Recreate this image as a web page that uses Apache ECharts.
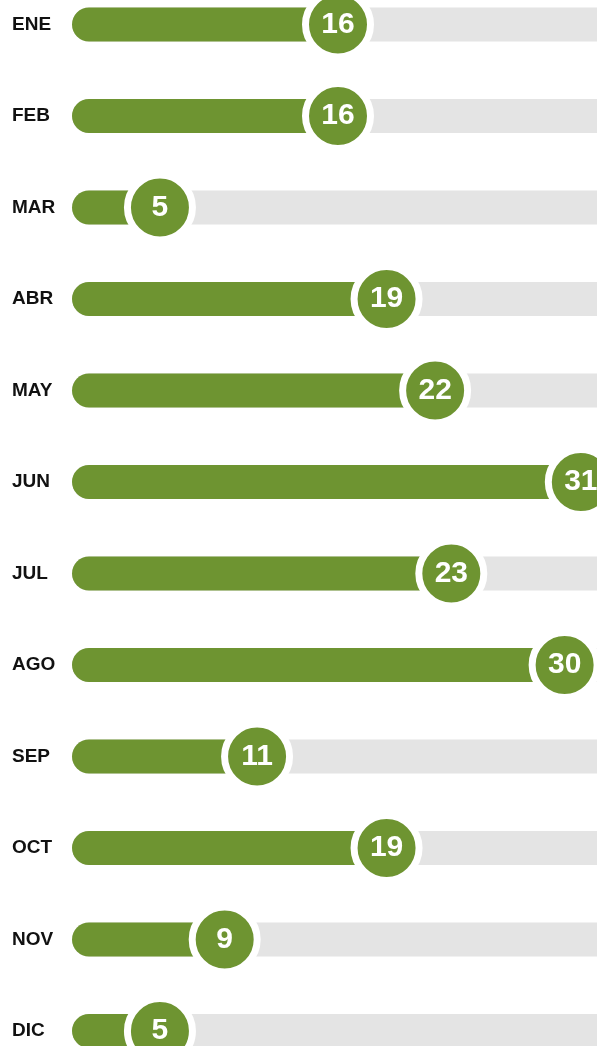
<!DOCTYPE html>
<html>
<head>
<meta charset="utf-8">
<script src="https://cdn.jsdelivr.net/npm/echarts@6/dist/echarts.min.js"></script>
<style>
  html, body { margin: 0; padding: 0; background: #ffffff; }
  #chart { width: 597px; height: 1046px; }
</style>
</head>
<body>
<div id="chart"></div>
<script>
// meses y valores
var months = ['ENE', 'FEB', 'MAR', 'ABR', 'MAY', 'JUN', 'JUL', 'AGO', 'SEP', 'OCT', 'NOV', 'DIC'];
var values = [16, 16, 5, 19, 22, 31, 23, 30, 11, 19, 9, 5];
var xMax = 32;

var green = '#6e9431';
var grey = '#e4e4e4';

var rowIdx = [];
var barData = [];
var dotData = [];
for (var i = 0; i < months.length; i++) {
  rowIdx.push(i);
  barData.push([values[i], i]);
  dotData.push([values[i], i]);
}

var chart = echarts.init(document.getElementById('chart'));

chart.setOption({
  animation: false,
  grid: {
    left: 79,
    right: 0,
    top: 0,
    bottom: 0
  },
  xAxis: {
    type: 'value',
    min: 0,
    max: xMax,
    show: false
  },
  // eje de filas como valor para poder recortar arriba/abajo como el original
  yAxis: {
    type: 'value',
    inverse: true,
    min: -0.268,
    max: 11.164,
    axisLine: { show: false },
    axisTick: { show: false },
    splitLine: { show: false },
    axisLabel: {
      customValues: rowIdx,
      align: 'left',
      margin: 67,
      padding: [6, 0, 0, 0],
      color: '#111111',
      fontFamily: 'Liberation Sans, Arial, sans-serif',
      fontWeight: 'bold',
      fontSize: 19,
      formatter: function (v) {
        return months[Math.round(v)];
      }
    }
  },
  series: [
    {
      type: 'custom',
      data: barData,
      encode: { x: 0, y: 1 },
      renderItem: function (params, api) {
        var start = api.coord([0, api.value(1)]);
        var end = api.coord([api.value(0), api.value(1)]);
        var full = api.coord([xMax, api.value(1)]);
        var h = 34;
        return {
          type: 'group',
          children: [
            {
              type: 'rect',
              shape: { x: start[0] - 7, y: start[1] - h / 2, width: full[0] - start[0] + 30, height: h, r: h / 2 },
              style: { fill: grey }
            },
            {
              type: 'rect',
              shape: { x: start[0] - 7, y: start[1] - h / 2, width: end[0] - start[0] + 7, height: h, r: h / 2 },
              style: { fill: green }
            }
          ]
        };
      }
    },
    {
      type: 'scatter',
      data: dotData,
      z: 3,
      symbol: 'circle',
      symbolSize: 65,
      itemStyle: {
        color: green,
        borderColor: '#ffffff',
        borderWidth: 7,
        opacity: 1
      },
      label: {
        show: true,
        position: 'inside',
        color: '#ffffff',
        fontFamily: 'Liberation Sans, Arial, sans-serif',
        fontWeight: 'bold',
        fontSize: 30,
        formatter: function (p) {
          return p.value[0];
        }
      }
    }
  ]
});
</script>
</body>
</html>
